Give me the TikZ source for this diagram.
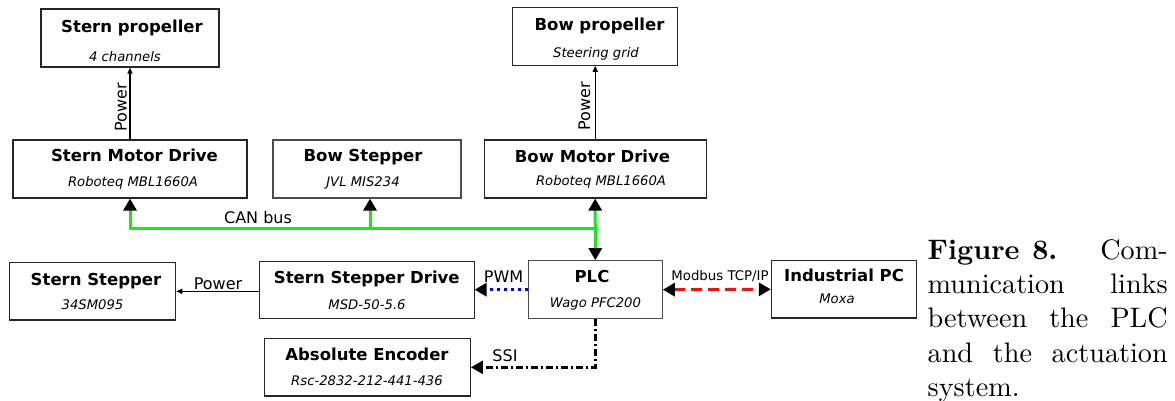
\documentclass[tikz,border=0pt]{standalone}
\usepackage{fontspec}
\usetikzlibrary{arrows.meta}
\newfontfamily\djv{DejaVu Sans}
\definecolor{cangreen}{RGB}{20,235,20}
\definecolor{mbred}{RGB}{235,20,20}
\definecolor{pwmblue}{RGB}{0,0,235}
\begin{document}
\begin{tikzpicture}[x=1pt,y=-1pt,
  box/.style={draw=black!85, line width=1.1pt, inner sep=0pt},
  title/.style={font=\djv\bfseries\fontsize{16.5}{18}\selectfont, inner sep=0pt, anchor=base},
  sub/.style={font=\djv\itshape\fontsize{13.2}{15}\selectfont, inner sep=0pt, anchor=base},
  lab/.style={font=\djv\fontsize{16}{18}\selectfont, inner sep=0pt, anchor=base},
  smalllab/.style={font=\djv\fontsize{13.3}{15}\selectfont, inner sep=0pt, anchor=base},
  big/.tip={Triangle[length=12pt,width=13pt,color=black]},
  small/.tip={Triangle[length=6pt,width=5pt,color=black]},
  pow/.style={draw=black, line width=1.2pt, -small},
  can/.style={draw=cangreen, line width=3pt},
  pwm/.style={draw=pwmblue, line width=3pt, dash pattern=on 3pt off 4pt, -big},
  modbus/.style={draw=mbred, line width=3pt, dash pattern=on 11pt off 6pt, big-big},
  ssi/.style={draw=black, line width=2.5pt, dash pattern=on 7pt off 3pt on 2pt off 3pt, -big}]
\useasboundingbox (0,0) rectangle (1175,400);

% boxes
\node[box, minimum width=178pt, minimum height=58pt] (sprop) at (130,38) {};
\node[title] (sprop-t) at (132,32.3) {Stern propeller};
\node[sub] (sprop-s) at (125,61.7) {4 channels};

\node[box, minimum width=234pt, minimum height=58pt] (smd) at (130,169) {};
\node[title] (smd-t) at (134.5,161) {Stern Motor Drive};
\node[sub] (smd-s) at (133,186.5) {Roboteq MBL1660A};

\node[box, draw=black!70, minimum width=188pt, minimum height=58pt] (bstep) at (367,169) {};
\node[title] (bstep-t) at (363,161) {Bow Stepper};
\node[sub] (bstep-s) at (363,186.5) {JVL MIS234};

\node[box, minimum width=165pt, minimum height=58pt] (bprop) at (595.2,36.2) {};
\node[title] (bprop-t) at (599.5,30) {Bow propeller};
\node[sub] (bprop-s) at (596,57.3) {Steering grid};

\node[box, minimum width=222pt, minimum height=58pt] (bmd) at (595.2,169) {};
\node[title] (bmd-t) at (592.5,162) {Bow Motor Drive};
\node[sub] (bmd-s) at (601,185.7) {Roboteq MBL1660A};

\node[box, minimum width=166.4pt, minimum height=57.3pt] (sstep) at (92.5,291.3) {};
\node[title] (sstep-t) at (96,285) {Stern Stepper};
\node[sub] (sstep-s) at (92.5,309.3) {34SM095};

\node[box, minimum width=214.7pt, minimum height=56.7pt] (ssd) at (366.7,289.7) {};
\node[title] (ssd-t) at (366.8,283.3) {Stern Stepper Drive};
\node[sub] (ssd-s) at (367,309.3) {MSD-50-5.6};

\node[box, minimum width=206.3pt, minimum height=57.3pt] (enc) at (367.2,367.3) {};
\node[title] (enc-t) at (367,360.7) {Absolute Encoder};
\node[sub] (enc-s) at (367,385.7) {Rsc-2832-212-441-436};

\node[box, draw=black!70, minimum width=134pt, minimum height=58pt] (plc) at (595.3,289.7) {};
\node[title] (plc-t) at (592,282.7) {PLC};
\node[sub] (plc-s) at (595.5,307.3) {Wago PFC200};

\node[box, minimum width=144.7pt, minimum height=57.3pt] (ipc) at (843.7,289.3) {};
\node[title] (ipc-t) at (844,281) {Industrial PC};
\node[sub] (ipc-s) at (837,303.3) {Moxa};

% power connectors
\draw[pow] (smd.north) -- (sprop.south);
\node[lab, rotate=90, anchor=base west] (pw1) at (126.5,131.7) {Power};
\draw[pow] (bmd.north) -- (bprop.south);
\node[lab, rotate=90, anchor=base west] (pw2) at (590,130.7) {Power};
\draw[pow] (ssd.west |- sstep.east) -- (sstep.east);
\node[lab] (pw3) at (218,289) {Power};

% CAN bus
\path (bmd.south) ++(0,30) coordinate (canj);
\draw[can, -big] (canj) -| (smd.south);
\draw[can, -big] ([xshift=3pt]bstep.south |- canj) -- ([xshift=3pt]bstep.south);
\draw[can, big-big] (bmd.south) -- (plc.north);
\node[lab] (canl) at (258,223.3) {CAN bus};

% PWM
\draw[pwm] (plc.west) -- (ssd.east);
\node[lab] (pwml) at (503.5,282.3) {PWM};

% Modbus
\draw[modbus] (plc.east) -- (ipc.west);
\node[smalllab] (mbl) at (720,280) {Modbus TCP/IP};

% SSI
\draw[ssi] (plc.south) |- (enc.east);
\node[lab] (ssil) at (505,361.7) {SSI};

% caption
\node[anchor=north west, inner sep=0pt] (cap) at (927.5,239) {\scalebox{2.82}{\parbox[t]{85.1pt}{\fontsize{10}{12.2}\selectfont
\makebox[\linewidth][s]{\textbf{Figure\hspace{4.5pt}8.}\hfill Com-}\\
\makebox[\linewidth][s]{munication\hfill links}\\
\makebox[\linewidth][s]{between the PLC}\\
\makebox[\linewidth][s]{and the actuation}\\
system.}}};
\end{tikzpicture}
\end{document}
